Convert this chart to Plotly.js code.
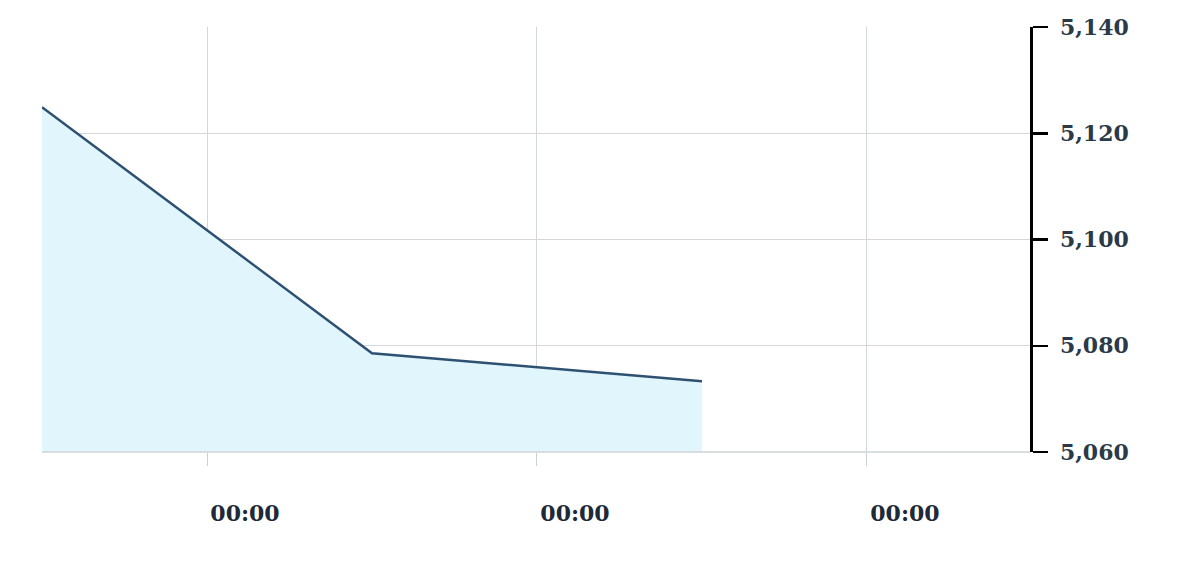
<!DOCTYPE html>
<html>
<head>
<meta charset="utf-8">
<script src="https://cdn.plot.ly/plotly-3.0.1.min.js"></script>
<style>html,body{margin:0;padding:0;background:#fff;}#chart{width:1200px;height:572px;}</style>
</head>
<body>
<div id="chart"></div>
<script>
// Data
const xPositions = [0, 1, 2];
const prices = [5124.9, 5078.6, 5073.3];
const xTickVals = [0.5, 1.5, 2.5];
const xTickText = ["00:00", "00:00", "00:00"];
const yTickVals = [5060, 5080, 5100, 5120, 5140];
const yTickText = ["5,060", "5,080", "5,100", "5,120", "5,140"];

const trace = {
  x: xPositions,
  y: prices,
  type: 'scatter',
  mode: 'lines',
  fill: 'tozeroy',
  fillcolor: '#e1f6fc',
  line: {color: '#2e5172', width: 2.5},
  hoverinfo: 'skip'
};

const layout = {
  width: 1200,
  height: 572,
  margin: {l: 42, r: 170, t: 27, b: 120},
  paper_bgcolor: '#ffffff',
  plot_bgcolor: '#ffffff',
  showlegend: false,
  xaxis: {
    range: [0, 2.994],
    tickmode: 'array',
    tickvals: xTickVals,
    ticktext: xTickText,
    showgrid: true,
    gridcolor: '#d4d7da',
    gridwidth: 1,
    zeroline: false,
    showline: false,
    ticks: 'outside',
    ticklen: 13,
    tickcolor: '#ccd0d3',
    tickwidth: 1,
    ticklabelshift: 38,
    ticklabelstandoff: 29,
    tickfont: {family: 'DejaVu Serif', size: 22, color: '#1e2a38', weight: 'bold'},
    fixedrange: true
  },
  yaxis: {
    side: 'right',
    range: [5060, 5140],
    tickmode: 'array',
    tickvals: yTickVals,
    ticktext: yTickText,
    showgrid: true,
    gridcolor: '#d4d7da',
    gridwidth: 1,
    zeroline: false,
    showline: true,
    linecolor: '#000000',
    linewidth: 2.5,
    ticks: 'outside',
    ticklen: 15,
    tickcolor: '#000000',
    tickwidth: 2.5,
    ticklabelstandoff: 8,
    tickfont: {family: 'DejaVu Serif', size: 22, color: '#2a3a48', weight: 'bold'},
    fixedrange: true
  },
  shapes: [{
    type: 'line', xref: 'paper', yref: 'paper', x0: 0, x1: 1, y0: 0, y1: 0,
    line: {color: '#cfd3d6', width: 1.5}, layer: 'above'
  }]
};

Plotly.newPlot('chart', [trace], layout, {displayModeBar: false, staticPlot: true});
</script>
</body>
</html>
